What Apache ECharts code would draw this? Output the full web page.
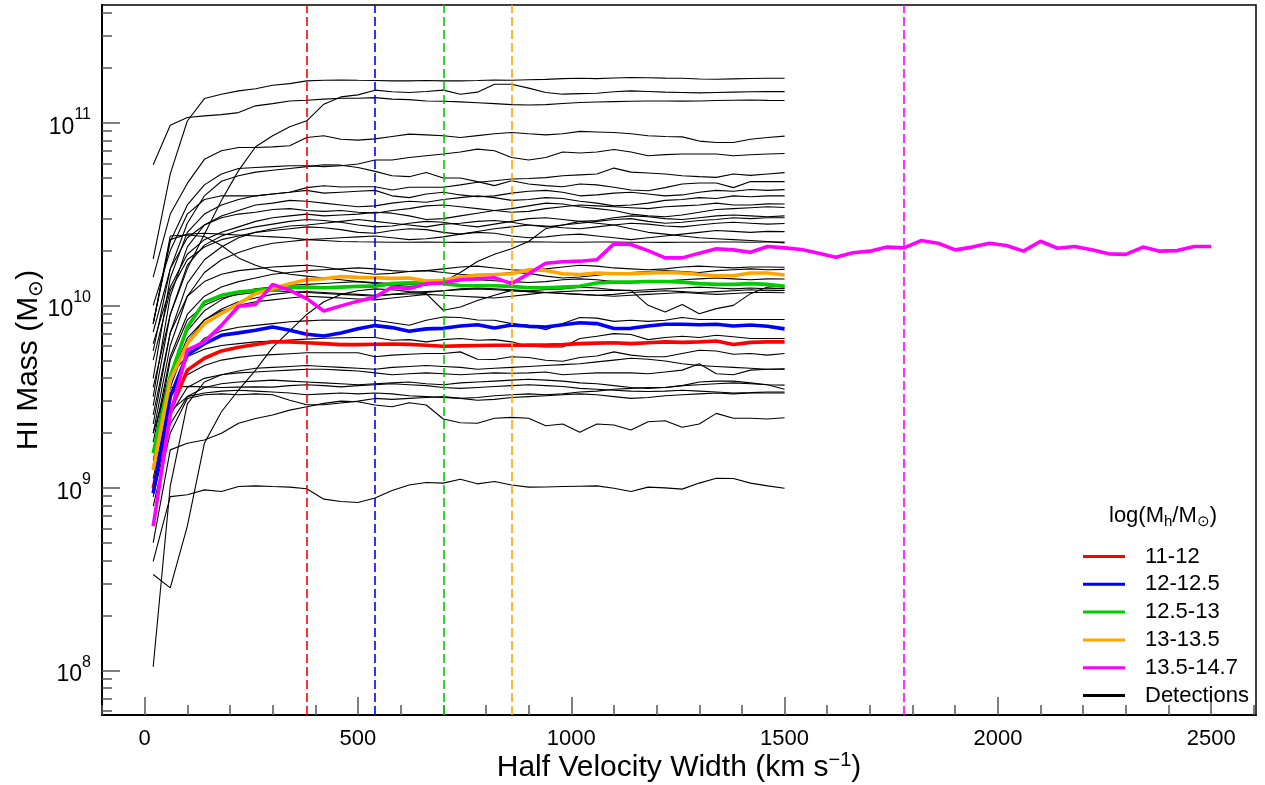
<!DOCTYPE html>
<html>
<head>
<meta charset="utf-8">
<script src="https://cdn.jsdelivr.net/npm/echarts@6/dist/echarts.min.js"></script>
<style>html,body{margin:0;padding:0;background:#fff;}#chart{width:1265px;height:785px;}</style>
</head>
<body>
<div id="chart"></div>
<script>
// Half velocity width sample points (km/s)
const velocity = [20,60,100,140,180,220,260,300,340,380,420,460,500,540,580,620,660,700,740,780,820,860,900,940,980,1020,1060,1100,1140,1180,1220,1260,1300,1340,1380,1420,1460,1500,1540,1580,1620,1660,1700,1740,1780,1820,1860,1900,1940,1980,2020,2060,2100,2140,2180,2220,2260,2300,2340,2380,2420,2460,2500];

// log10 HI mass (M_sun) of stacked halo-mass bins
const bin11_12 = [9.00,9.42,9.645,9.71,9.75,9.77,9.785,9.80,9.80,9.795,9.79,9.785,9.785,9.787,9.788,9.786,9.781,9.776,9.778,9.78,9.781,9.781,9.782,9.782,9.785,9.79,9.793,9.795,9.79,9.795,9.80,9.797,9.80,9.805,9.785,9.797,9.80,9.80];
const bin12_125 = [8.97,9.50,9.73,9.79,9.836,9.849,9.863,9.881,9.863,9.842,9.832,9.849,9.872,9.889,9.878,9.858,9.871,9.874,9.887,9.894,9.876,9.892,9.885,9.881,9.894,9.905,9.90,9.873,9.874,9.887,9.896,9.896,9.894,9.896,9.887,9.892,9.885,9.871];
const bin125_13 = [9.19,9.61,9.88,10.018,10.055,10.073,10.082,10.091,10.096,10.10,10.096,10.10,10.104,10.105,10.119,10.124,10.122,10.119,10.109,10.107,10.107,10.104,10.096,10.096,10.10,10.104,10.122,10.127,10.127,10.131,10.131,10.127,10.119,10.115,10.115,10.119,10.115,10.104];
const bin13_135 = [9.10,9.59,9.79,9.90,9.955,10.009,10.064,10.091,10.118,10.14,10.146,10.158,10.153,10.151,10.148,10.15,10.133,10.137,10.155,10.166,10.169,10.173,10.195,10.191,10.173,10.169,10.177,10.173,10.173,10.177,10.18,10.177,10.169,10.162,10.162,10.177,10.177,10.166];
const bin135_147 = [8.79,9.40,9.754,9.80,9.89,9.995,10.005,10.115,10.082,10.037,9.969,9.997,10.023,10.045,10.10,10.091,10.119,10.124,10.14,10.146,10.151,10.119,10.173,10.231,10.239,10.242,10.25,10.337,10.333,10.30,10.26,10.26,10.286,10.31,10.304,10.291,10.322,10.315,10.306,10.286,10.264,10.288,10.297,10.319,10.315,10.355,10.34,10.304,10.319,10.34,10.328,10.297,10.351,10.313,10.322,10.304,10.282,10.279,10.319,10.297,10.30,10.322,10.322];

// individual detections, log10 HI mass
const detectionLines = [
 [10.255,10.72,11.01,11.133,11.157,11.175,11.187,11.206,11.215,11.23,11.233,11.235,11.233,11.232,11.23,11.23,11.232,11.23,11.23,11.232,11.235,11.233,11.236,11.238,11.242,11.244,11.242,11.246,11.248,11.247,11.245,11.244,11.24,11.239,11.241,11.243,11.244,11.244],
 [10.77,10.987,11.029,11.038,11.045,11.056,11.093,11.105,11.12,11.124,11.13,11.135,11.135,11.138,11.13,11.127,11.12,11.118,11.115,11.11,11.105,11.10,11.098,11.1,11.106,11.111,11.114,11.116,11.118,11.12,11.12,11.119,11.12,11.122,11.124,11.125,11.123,11.122],
 [9.55,9.95,10.2,10.39,10.574,10.738,10.869,10.929,10.978,11.011,11.102,11.142,11.153,11.179,11.17,11.166,11.172,11.179,11.157,11.168,11.211,11.211,11.19,11.166,11.157,11.16,11.162,11.17,11.175,11.172,11.168,11.166,11.164,11.166,11.168,11.17,11.171,11.171],
 [10.155,10.5,10.668,10.8,10.847,10.865,10.865,10.868,10.874,10.92,10.929,10.91,10.905,10.912,10.925,10.938,10.934,10.929,10.92,10.93,10.94,10.947,10.94,10.934,10.94,10.953,10.95,10.947,10.94,10.929,10.925,10.923,10.9,10.892,10.892,10.91,10.92,10.927],
 [9.9,10.35,10.55,10.66,10.72,10.75,10.755,10.76,10.765,10.765,10.76,10.765,10.774,10.796,10.796,10.81,10.82,10.829,10.84,10.856,10.847,10.81,10.796,10.81,10.84,10.835,10.84,10.854,10.84,10.82,10.826,10.829,10.829,10.829,10.82,10.825,10.829,10.832],
 [10.0,10.3,10.5,10.58,10.6,10.6,10.6,10.61,10.62,10.645,10.655,10.648,10.65,10.65,10.632,10.647,10.647,10.647,10.66,10.674,10.683,10.692,10.695,10.7,10.71,10.715,10.72,10.752,10.73,10.725,10.72,10.71,10.705,10.701,10.72,10.712,10.72,10.727],
 [9.75,10.2,10.45,10.6,10.68,10.71,10.73,10.74,10.75,10.76,10.77,10.768,10.755,10.734,10.71,10.705,10.728,10.698,10.698,10.678,10.656,10.683,10.665,10.656,10.65,10.665,10.66,10.647,10.632,10.628,10.645,10.665,10.67,10.67,10.645,10.678,10.678,10.678],
 [9.6,10.15,10.40,10.50,10.55,10.58,10.60,10.61,10.62,10.63,10.615,10.62,10.625,10.63,10.60,10.59,10.61,10.62,10.605,10.595,10.60,10.615,10.625,10.63,10.62,10.60,10.605,10.615,10.62,10.61,10.60,10.605,10.62,10.63,10.625,10.635,10.63,10.634],
 [9.5,10.05,10.32,10.44,10.49,10.52,10.55,10.56,10.575,10.57,10.56,10.55,10.54,10.545,10.56,10.57,10.565,10.58,10.59,10.60,10.59,10.575,10.58,10.59,10.585,10.57,10.56,10.545,10.55,10.56,10.575,10.58,10.59,10.585,10.6,10.595,10.60,10.60],
 [9.854,10.2,10.37,10.44,10.48,10.50,10.51,10.525,10.53,10.52,10.515,10.52,10.51,10.505,10.52,10.53,10.545,10.55,10.54,10.53,10.52,10.51,10.515,10.53,10.54,10.55,10.545,10.54,10.535,10.53,10.54,10.545,10.55,10.56,10.55,10.55,10.556,10.555],
 [9.79,10.1,10.28,10.36,10.40,10.43,10.46,10.48,10.49,10.50,10.49,10.495,10.50,10.51,10.505,10.49,10.47,10.475,10.49,10.505,10.52,10.53,10.545,10.56,10.555,10.54,10.53,10.52,10.50,10.49,10.485,10.495,10.51,10.525,10.53,10.535,10.54,10.536],
 [9.45,9.95,10.22,10.33,10.38,10.41,10.43,10.445,10.46,10.47,10.465,10.455,10.44,10.43,10.435,10.45,10.46,10.455,10.44,10.43,10.445,10.46,10.475,10.48,10.47,10.46,10.465,10.48,10.49,10.485,10.475,10.47,10.48,10.49,10.495,10.49,10.485,10.49],
 [9.35,9.85,10.12,10.25,10.32,10.37,10.40,10.42,10.435,10.44,10.45,10.46,10.47,10.46,10.45,10.44,10.43,10.445,10.45,10.46,10.465,10.455,10.44,10.43,10.44,10.45,10.46,10.47,10.475,10.46,10.45,10.455,10.465,10.47,10.48,10.475,10.48,10.48],
 [9.7,10.08,10.25,10.32,10.36,10.38,10.40,10.41,10.42,10.43,10.425,10.415,10.40,10.395,10.41,10.42,10.415,10.40,10.39,10.405,10.42,10.43,10.44,10.435,10.425,10.42,10.43,10.44,10.45,10.445,10.435,10.43,10.44,10.45,10.455,10.45,10.445,10.448],
 [9.3,9.78,10.05,10.18,10.25,10.29,10.32,10.34,10.35,10.36,10.365,10.37,10.375,10.38,10.37,10.36,10.365,10.375,10.39,10.40,10.395,10.38,10.37,10.375,10.385,10.39,10.38,10.37,10.36,10.37,10.38,10.39,10.40,10.41,10.405,10.40,10.405,10.404],
 [9.9,10.36,10.39,10.395,10.39,10.385,10.38,10.375,10.37,10.36,10.355,10.35,10.348,10.347,10.346,10.346,10.347,10.346,10.345,10.346,10.347,10.347,10.348,10.347,10.346,10.346,10.347,10.347,10.346,10.346,10.345,10.346,10.346,10.347,10.347,10.346,10.347,10.347],
 [9.9,10.38,10.385,10.377,10.328,10.26,10.22,10.19,10.17,10.16,10.15,10.14,10.13,10.12,10.11,10.105,10.11,10.13,10.18,10.24,10.28,10.31,10.35,10.42,10.44,10.46,10.45,10.44,10.42,10.40,10.39,10.38,10.37,10.365,10.36,10.355,10.35,10.342],
 [9.25,9.72,9.95,10.05,10.10,10.13,10.15,10.17,10.18,10.19,10.195,10.20,10.205,10.20,10.19,10.185,10.19,10.20,10.21,10.215,10.205,10.195,10.19,10.20,10.21,10.22,10.215,10.205,10.20,10.195,10.20,10.21,10.215,10.21,10.205,10.21,10.21,10.209],
 [9.4,9.85,10.05,10.13,10.17,10.19,10.20,10.21,10.215,10.22,10.21,10.195,10.18,10.17,10.175,10.185,10.19,10.18,10.17,10.165,10.17,10.18,10.175,10.16,10.15,10.155,10.165,10.175,10.18,10.185,10.19,10.185,10.18,10.19,10.195,10.20,10.195,10.197],
 [9.2,9.7,9.92,10.0,10.04,10.06,10.07,10.08,10.075,10.07,10.065,10.06,10.055,10.05,10.06,10.07,10.075,10.08,10.085,10.09,10.085,10.08,10.075,10.07,10.075,10.08,10.082,10.082,10.082,10.0,9.963,10.004,9.954,9.982,10.0,10.064,10.10,10.105],
 [9.12,9.62,9.86,9.97,10.03,10.07,10.09,10.10,10.11,10.115,10.12,10.125,10.13,10.125,10.12,10.115,10.12,10.13,10.135,10.14,10.135,10.13,10.125,10.13,10.14,10.145,10.14,10.13,10.125,10.13,10.135,10.14,10.145,10.15,10.145,10.14,10.145,10.144],
 [8.525,8.452,8.79,9.244,9.417,9.536,9.645,9.77,9.86,9.95,10.02,10.06,10.08,10.09,10.085,10.075,10.07,10.08,10.09,10.095,10.09,10.085,10.08,10.085,10.09,10.1,10.095,10.085,10.08,10.085,10.09,10.095,10.1,10.095,10.09,10.095,10.09,10.093],
 [9.15,9.6,9.82,9.92,9.97,10.0,10.02,10.03,10.04,10.05,10.045,10.04,10.035,10.03,10.04,10.05,10.06,10.055,10.05,10.045,10.04,10.05,10.06,10.07,10.065,10.06,10.055,10.06,10.07,10.075,10.08,10.075,10.07,10.075,10.08,10.085,10.08,10.082],
 [9.1,9.55,9.8,9.92,9.98,10.02,10.04,10.06,10.07,10.075,10.07,10.065,10.06,10.055,10.06,10.062,10.064,9.973,9.991,10.027,10.055,10.082,10.075,10.07,10.065,10.06,10.055,10.05,10.055,10.06,10.065,10.07,10.065,10.06,10.065,10.07,10.07,10.069],
 [9.05,9.5,9.72,9.82,9.86,9.88,9.89,9.90,9.91,9.915,9.92,9.918,9.918,9.918,9.905,9.891,9.918,9.936,9.933,9.92,9.918,9.90,9.891,9.867,9.90,9.933,9.93,9.912,9.918,9.912,9.918,9.933,9.922,9.922,9.922,9.922,9.922,9.922],
 [9.3,9.62,9.72,9.76,9.78,9.79,9.80,9.805,9.81,9.815,9.82,9.822,9.824,9.824,9.809,9.812,9.80,9.812,9.818,9.809,9.812,9.80,9.776,9.772,9.772,9.818,9.831,9.845,9.84,9.812,9.824,9.831,9.824,9.836,9.828,9.818,9.818,9.818],
 [9.2,9.5,9.62,9.67,9.70,9.715,9.725,9.73,9.735,9.74,9.74,9.74,9.74,9.718,9.727,9.732,9.736,9.736,9.745,9.705,9.703,9.718,9.714,9.699,9.694,9.714,9.722,9.745,9.727,9.718,9.718,9.736,9.754,9.75,9.732,9.736,9.727,9.736],
 [9.0,9.4,9.55,9.6,9.62,9.63,9.635,9.64,9.645,9.65,9.65,9.645,9.64,9.63,9.62,9.625,9.63,9.625,9.62,9.625,9.63,9.628,9.63,9.635,9.62,9.625,9.63,9.63,9.63,9.625,9.635,9.645,9.68,9.625,9.62,9.645,9.65,9.652],
 [8.95,9.35,9.5,9.55,9.57,9.58,9.585,9.59,9.585,9.58,9.575,9.57,9.565,9.57,9.575,9.58,9.57,9.565,9.575,9.58,9.585,9.59,9.595,9.59,9.585,9.575,9.57,9.56,9.55,9.545,9.55,9.56,9.565,9.57,9.575,9.57,9.565,9.563],
 [9.1,9.55,9.556,9.553,9.55,9.552,9.553,9.552,9.56,9.565,9.56,9.553,9.56,9.565,9.57,9.565,9.56,9.55,9.545,9.55,9.555,9.56,9.565,9.56,9.555,9.545,9.54,9.535,9.53,9.528,9.53,9.535,9.53,9.525,9.52,9.522,9.525,9.525],
 [8.9,9.3,9.49,9.51,9.515,9.51,9.515,9.51,9.48,9.455,9.455,9.465,9.475,9.49,9.485,9.49,9.495,9.50,9.49,9.48,9.485,9.495,9.50,9.505,9.51,9.515,9.51,9.50,9.49,9.495,9.505,9.51,9.515,9.52,9.515,9.52,9.52,9.52],
 [9.0,9.42,9.5,9.52,9.53,9.535,9.53,9.525,9.52,9.51,9.515,9.52,9.515,9.52,9.515,9.505,9.50,9.495,9.49,9.495,9.505,9.51,9.515,9.51,9.515,9.525,9.53,9.54,9.545,9.55,9.55,9.56,9.58,9.585,9.585,9.575,9.565,9.54],
 [8.7,9.208,9.244,9.262,9.299,9.354,9.38,9.399,9.426,9.444,9.463,9.475,9.472,9.454,9.444,9.466,9.454,9.377,9.357,9.354,9.381,9.386,9.381,9.34,9.35,9.304,9.35,9.344,9.317,9.362,9.368,9.332,9.35,9.408,9.381,9.381,9.377,9.384],
 [8.597,8.952,8.962,8.989,8.98,9.007,9.011,9.007,9.004,8.995,8.938,8.925,8.92,8.944,8.985,9.016,9.029,9.026,9.047,9.022,9.035,9.016,9.004,9.005,9.007,9.009,9.011,8.998,8.98,9.004,9.0,8.993,9.026,9.053,9.051,9.026,9.011,8.998],
 [8.02,9.01,9.46,9.58,9.62,9.64,9.655,9.66,9.665,9.67,9.665,9.66,9.655,9.65,9.66,9.665,9.67,9.665,9.66,9.65,9.655,9.66,9.665,9.67,9.675,9.68,9.69,9.70,9.71,9.705,9.695,9.68,9.67,9.665,9.66,9.655,9.65,9.65]
];

// dashed threshold velocities per bin
const thresholdVelocity = [380, 540, 700, 860, 1780];
const binNames = ['11-12','12-12.5','12.5-13','13-13.5','13.5-14.7'];
const binColors = ['#ff0000','#0000ff','#00cc00','#ffa500','#ff00ff'];
const binValues = [bin11_12, bin12_125, bin125_13, bin13_135, bin135_147];

const xTickLabels = [0,500,1000,1500,2000,2500];
const yTickLabels = [8,9,10,11];

const FONT = 'Liberation Sans, Arial, Helvetica, sans-serif';
const Y_MIN = 7.7554, Y_MAX = 11.6456;
const X_MIN = -100, X_MAX = 2605;

const yMinor = [];
for (let n = 7; n <= 11; n++) for (let k = 2; k <= 9; k++) { const v = n + Math.log10(k); if (v > Y_MIN && v < Y_MAX) yMinor.push(v); }
const xMinor = [];
for (let v = -100; v <= 2600; v += 100) if (v % 500 !== 0) xMinor.push(v);

const toPts = arr => arr.map((v, i) => [velocity[i], v]);

const series = [];
detectionLines.forEach(line => {
  series.push({ name: 'Detections', type: 'line', data: toPts(line), showSymbol: false, symbol: 'none',
    lineStyle: { color: '#000', width: 1.1 }, itemStyle: { color: '#000' }, silent: true, z: 2 });
});
binValues.forEach((vals, i) => {
  series.push({ name: binNames[i], type: 'line', data: toPts(vals), showSymbol: false, symbol: 'none',
    lineStyle: { color: binColors[i], width: 3.6 }, itemStyle: { color: binColors[i] }, silent: true, z: 4,
    markLine: { silent: true, symbol: ['none', 'none'], label: { show: false }, animation: false,
      lineStyle: { color: binColors[i], type: [9, 4], width: 1.6 },
      data: [{ xAxis: thresholdVelocity[i] }] } });
});

const chart = echarts.init(document.getElementById('chart'), null, { renderer: 'canvas' });
chart.setOption({
  animation: false,
  backgroundColor: '#fff',
  grid: { left: 102, right: 9, top: 5, bottom: 70, show: true, borderColor: '#000', borderWidth: 1.5,
    backgroundColor: 'transparent', containLabel: false, outerBoundsMode: 'none' },
  title: {
    text: '{a|log(M}{s|h}{a|/M}{s|⊙}{a|)}', left: 1109, top: 503, padding: 0,
    textStyle: { fontWeight: 'normal', rich: {
      a: { fontFamily: FONT, fontSize: 22, fontWeight: 'normal', color: '#000', lineHeight: 26 },
      s: { fontFamily: FONT, fontSize: 15, fontWeight: 'normal', color: '#000', verticalAlign: 'bottom', lineHeight: 20 } } }
  },
  legend: {
    data: binNames.concat(['Detections']), orient: 'vertical', left: 1083, top: 545.5, padding: 0,
    itemWidth: 42, itemHeight: 3, icon: 'rect', itemGap: 5.8, selectedMode: false,
    textStyle: { fontFamily: FONT, fontSize: 22, color: '#000', lineHeight: 22, padding: [0, 0, 0, 15] }
  },
  xAxis: [{
    type: 'value', min: X_MIN, max: X_MAX, position: 'bottom',
    name: '{a|Half Velocity Width (km s}{s|−1}{a|)}', nameLocation: 'middle', nameGap: 35, nameMoveOverlap: false,
    nameTextStyle: { rich: {
      a: { fontFamily: FONT, fontSize: 30, color: '#000', lineHeight: 35 },
      s: { fontFamily: FONT, fontSize: 20, color: '#000', verticalAlign: 'top', lineHeight: 22 } } },
    axisLine: { show: true, onZero: false, lineStyle: { color: '#000', width: 2 } },
    axisTick: { show: true, inside: true, length: 18, customValues: xTickLabels, lineStyle: { color: '#555', width: 1.5 } },
    axisLabel: { show: true, customValues: xTickLabels, margin: 13, fontFamily: FONT, fontSize: 22, color: '#000',
      formatter: v => String(v) },
    splitLine: { show: false }
  }, {
    type: 'value', min: X_MIN, max: X_MAX, position: 'bottom', gridIndex: 0,
    axisLine: { show: false, onZero: false },
    axisTick: { show: true, inside: true, length: 10, customValues: xMinor, lineStyle: { color: '#555', width: 1.5 } },
    axisLabel: { show: false }, splitLine: { show: false }
  }],
  yAxis: [{
    type: 'value', min: Y_MIN, max: Y_MAX, position: 'left',
    name: '{a|HI Mass (M}{s|⊙}{a|)}', nameLocation: 'middle', nameGap: 56, nameRotate: 90, nameMoveOverlap: false,
    nameTextStyle: { rich: {
      a: { fontFamily: FONT, fontSize: 30, color: '#000', lineHeight: 35 },
      s: { fontFamily: FONT, fontSize: 20, color: '#000', verticalAlign: 'bottom', lineHeight: 26 } } },
    axisLine: { show: true, onZero: false, lineStyle: { color: '#000', width: 2 } },
    axisTick: { show: true, inside: true, length: 18, customValues: yTickLabels, lineStyle: { color: '#555', width: 1.5 } },
    axisLabel: { show: true, customValues: yTickLabels, margin: 11,
      formatter: v => '{b|10}{s|' + Math.round(v) + '}',
      rich: {
        b: { fontFamily: FONT, fontSize: 23, color: '#000', lineHeight: 32, verticalAlign: 'bottom' },
        s: { fontFamily: FONT, fontSize: 16, color: '#000', lineHeight: 32, verticalAlign: 'top' } } },
    splitLine: { show: false }
  }, {
    type: 'value', min: Y_MIN, max: Y_MAX, position: 'left', gridIndex: 0,
    axisLine: { show: false, onZero: false },
    axisTick: { show: true, inside: true, length: 10, customValues: yMinor, lineStyle: { color: '#555', width: 1.5 } },
    axisLabel: { show: false }, splitLine: { show: false }
  }],
  series: series
});
</script>
</body>
</html>
